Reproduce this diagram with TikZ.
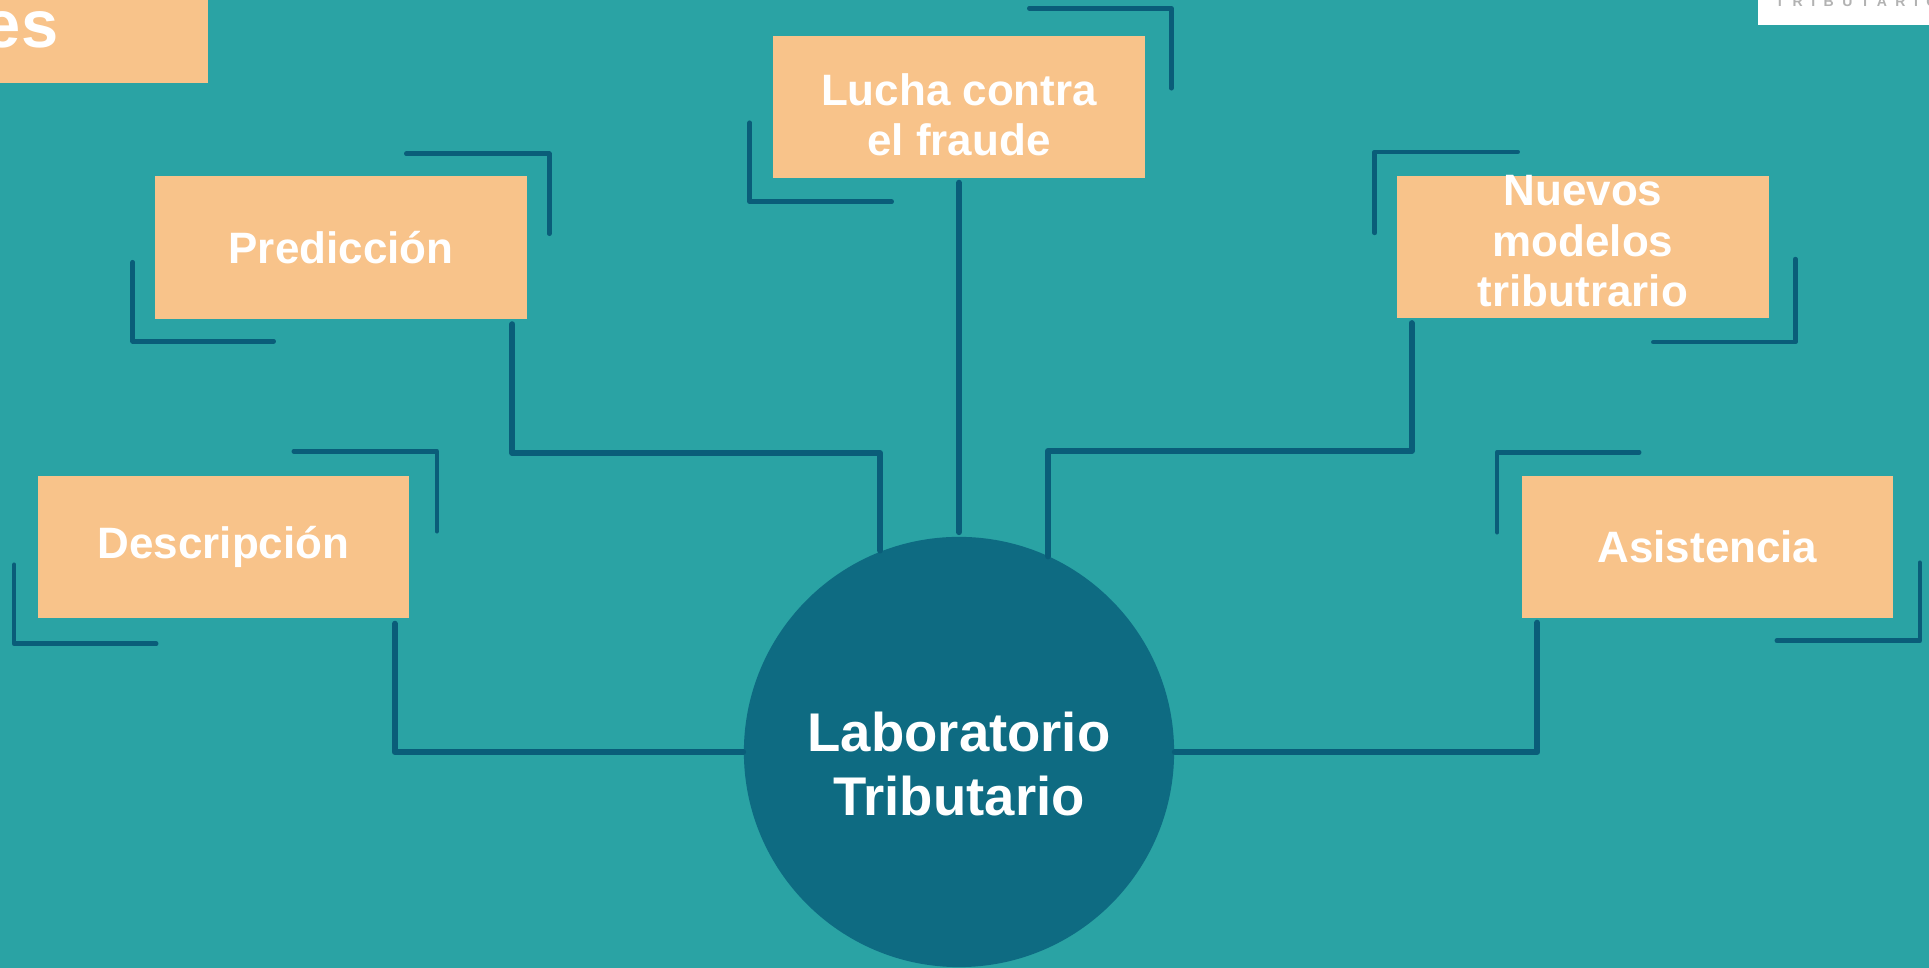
\documentclass[tikz,border=0pt]{standalone}
\usepackage{fontspec}
\setmainfont{Liberation Sans}
\usetikzlibrary{calc}
\definecolor{seabg}{HTML}{2AA3A4}
\definecolor{hubblue}{HTML}{0E6B82}
\definecolor{linkblue}{HTML}{0A5D79}
\definecolor{peach}{HTML}{F8C38A}
\tikzset{
  topic/.style={fill=peach, minimum width=3.71cm, minimum height=1.42cm, inner sep=0pt,
    text=white, align=center, font=\fontsize{12.5}{14.3}\selectfont\bfseries},
  hub/.style={circle, fill=hubblue, minimum size=4.3cm, inner sep=0pt},
  link/.style={draw=linkblue, line width=1.7pt, line cap=round, line join=round},
  corner/.style={draw=linkblue, line width=1.3pt, line cap=round, line join=round},
}
\begin{document}
\begin{tikzpicture}[x=0.01cm,y=-0.01cm]
    \useasboundingbox (0,0) rectangle (1929,968);
    \clip (0,0) rectangle (1929,968);
    \fill [seabg] (0,0) rectangle (1929,968);
    % title strip and logo, cut by the page edge
    \fill [peach] (-10,-10) rectangle (208,83);
    \node [anchor=base east, inner sep=0pt, text=white, font=\fontsize{19}{22}\selectfont\bfseries] (title) at (59,48) {es};
    \fill [white] (1758,-10) rectangle (1940,25);
    \node [anchor=base west, inner sep=0pt, text=gray!60, font=\fontsize{4}{5}\selectfont\bfseries\addfontfeatures{LetterSpace=60}] (logo) at (1775,7) {TRIBUTARIO};
    % centre
    \node [hub] (lab) at (959,752) {};
    \node [text=white, align=center, font=\fontsize{15.5}{18.2}\selectfont\bfseries] (labtext) at (959,764) {Laboratorio\\Tributario};
    % topics
    \node [topic] (desc) at (223.5,547) {Descripción};
    \node [topic] (pred) at (341,247.5) {Predicción};
    \node [topic, text height=0.97cm] (fraud) at (959,107) {Lucha contra\\el fraude};
    \node [topic, text depth=0.12cm] (models) at (1583,247) {Nuevos\\modelos\\tributrario};
    \node [topic] (assist) at (1707.5,547) {Asistencia};
    % connectors
    \coordinate (predbend) at (880,453);
    \coordinate (modelsbend) at (1048,451);
    \draw [link] ([xshift=-0.15cm,yshift=-0.05cm]desc.south east) |- (lab.west);
    \draw [link] ([xshift=-0.15cm,yshift=-0.05cm]pred.south east) |- (predbend) -- (lab.111.6 -| predbend);
    \draw [link] ([yshift=-0.04cm]fraud.south) -- ([yshift=0.04cm]lab.north);
    \draw [link] ([xshift=0.15cm,yshift=-0.04cm]models.south west) |- (modelsbend) -- (lab.65.6 -| modelsbend);
    \draw [link] ([xshift=0.16cm,yshift=-0.04cm]assist.south west) |- (lab.east);
    % corner brackets
    \draw [corner] ($(desc.north east)+(-116,-24)$) -- ++(143,0) -- ++(0,80);
    \draw [corner] ($(desc.south west)+(-23,-54)$) -- ++(0,79) -- ++(142,0);
    \draw [corner] ($(pred.north east)+(-121,-22)$) -- ++(143,0) -- ++(0,80);
    \draw [corner] ($(pred.south west)+(-22,-57)$) -- ++(0,79) -- ++(141,0);
    \draw [corner] ($(fraud.north east)+(-116,-27)$) -- ++(142,0) -- ++(0,80);
    \draw [corner] ($(fraud.south west)+(-23,-56)$) -- ++(0,79) -- ++(142,0);
    \draw [corner] ($(models.north west)+(121,-23)$) -- ++(-143,0) -- ++(0,81);
    \draw [corner] ($(models.south east)+(26,-60)$) -- ++(0,83) -- ++(-142,0);
    \draw [corner] ($(assist.north west)+(118,-23)$) -- ++(-142,0) -- ++(0,80);
    \draw [corner] ($(assist.south east)+(26,-56)$) -- ++(0,78) -- ++(-143,0);
\end{tikzpicture}
\end{document}
